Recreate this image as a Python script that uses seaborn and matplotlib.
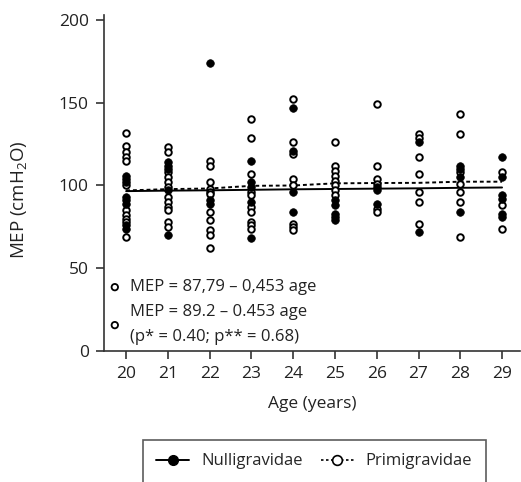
import pandas as pd
import matplotlib
matplotlib.use("Agg")
import matplotlib.pyplot as plt
import seaborn as sns
from matplotlib.lines import Line2D

# Ages on the x axis
ages = [20, 21, 22, 23, 24, 25, 26, 27, 28, 29]

# MEP readings (cmH2O) per age
nulli_mep = [
    [106, 104, 102, 93, 91, 89, 76, 74],
    [114, 112, 110, 97, 70],
    [174, 91, 89],
    [115, 102, 99, 90, 68],
    [147, 121, 96, 84],
    [91, 88, 83, 81, 79],
    [99, 97, 89],
    [126, 72],
    [112, 110, 105, 84],
    [117, 105, 94, 92, 83, 81],
]
primi_mep = [
    [132, 124, 120, 117, 115, 100, 85, 82, 80, 78, 69],
    [123, 120, 108, 105, 102, 99, 93, 90, 87, 85, 78, 75],
    [115, 112, 102, 98, 96, 95, 84, 79, 73, 70, 62],
    [140, 129, 107, 96, 94, 87, 84, 78, 76, 74],
    [152, 126, 119, 104, 100, 77, 75, 73],
    [126, 112, 109, 106, 103, 100, 97, 94],
    [149, 112, 104, 101, 86, 84],
    [131, 129, 117, 107, 96, 90, 77],
    [143, 131, 108, 101, 96, 90, 69],
    [108, 88, 74],
]

# Fitted lines
fit_nulli = [96.6, 96.9, 97.1, 97.4, 97.7, 97.9, 98.1, 98.3, 98.6, 98.8]
fit_primi = [97.0, 97.8, 98.2, 99.8, 100.0, 101.3, 101.5, 101.6, 102.3, 102.3]

rows = []
for a, vals in zip(ages, nulli_mep):
    for v in vals:
        rows.append({"age": a, "mep": v, "group": "Nulligravidae"})
for a, vals in zip(ages, primi_mep):
    for v in vals:
        rows.append({"age": a, "mep": v, "group": "Primigravidae"})
df = pd.DataFrame(rows)
fits = pd.DataFrame({"age": ages, "Nulligravidae": fit_nulli, "Primigravidae": fit_primi})

sns.set_style("ticks")
plt.rcParams["font.family"] = ["Open Sans", "DejaVu Sans"]
plt.rcParams["mathtext.fontset"] = "custom"
plt.rcParams["mathtext.rm"] = "Open Sans"
plt.rcParams["mathtext.it"] = "Open Sans"

fig = plt.figure(figsize=(5.21, 4.82), dpi=100)
ax = fig.add_axes([0.1996, 0.2718, 0.7985, 0.697])

sns.lineplot(data=fits, x="age", y="Nulligravidae", color="black", lw=1.4, ax=ax)
sns.lineplot(data=fits, x="age", y="Primigravidae", color="black", lw=1.4,
             linestyle=(0, (2, 1.5)), ax=ax)

sns.scatterplot(data=df[df.group == "Primigravidae"], x="age", y="mep", marker="o",
                s=22, facecolor="white", edgecolor="black", linewidth=1.4, ax=ax, zorder=3)
sns.scatterplot(data=df[df.group == "Nulligravidae"], x="age", y="mep", marker="o",
                s=30, color="black", edgecolor="black", linewidth=0.5, ax=ax, zorder=4)

ax.set_xlim(19.47, 29.43)
ax.set_ylim(0, 203)
ax.set_xticks(ages)
ax.set_yticks([0, 50, 100, 150, 200])
sns.despine(ax=ax)
for s in ["left", "bottom"]:
    ax.spines[s].set_linewidth(1.2)
    ax.spines[s].set_color("#333333")
ax.tick_params(axis="both", length=6, width=1.2, color="#333333", labelsize=12.5,
               labelcolor="#222222", pad=5)
ax.set_xlabel("Age (years)", fontsize=12.5, color="#222222", labelpad=10)
ax.set_ylabel("MEP (cmH$_2$O)", fontsize=13.5, color="#222222")
ax.yaxis.set_label_coords(-0.18, 0.45)

# Equation annotations (small open circles drawn as circular text boxes)
circle = dict(boxstyle="circle,pad=0.35", fc="white", ec="black", lw=1.3)
ax.text(0.026, 0.19, " ", transform=ax.transAxes, fontsize=2.5, ha="center", va="center",
        bbox=circle)
ax.text(0.026, 0.077, " ", transform=ax.transAxes, fontsize=2.5, ha="center", va="center",
        bbox=circle)
ax.text(0.062, 0.19, "MEP = 87,79 \u2013 0,453 age", transform=ax.transAxes,
        fontsize=12, va="center", color="#222222")
ax.text(0.062, 0.116, "MEP = 89.2 \u2013 0.453 age", transform=ax.transAxes,
        fontsize=12, va="center", color="#222222")
ax.text(0.062, 0.042, "(p* = 0.40; p** = 0.68)", transform=ax.transAxes,
        fontsize=12, va="center", color="#222222")

handles = [
    Line2D([], [], color="black", lw=1.4, marker="o", markersize=7,
           markerfacecolor="black"),
    Line2D([], [], color="black", lw=1.2, linestyle=(0, (1.5, 1.5)), marker="o",
           markersize=7, markerfacecolor="white", markeredgewidth=1.2),
]
leg = fig.legend(handles, ["Nulligravidae", "Primigravidae"], loc="upper center",
                 bbox_to_anchor=(0.603, 0.087), ncol=2, fontsize=12, frameon=True,
                 fancybox=False, edgecolor="#333333", handlelength=2.0,
                 columnspacing=1.1, borderpad=0.8, handletextpad=0.7, borderaxespad=0)
leg.get_frame().set_linewidth(1.2)

fig.savefig("out.png", dpi=100)
